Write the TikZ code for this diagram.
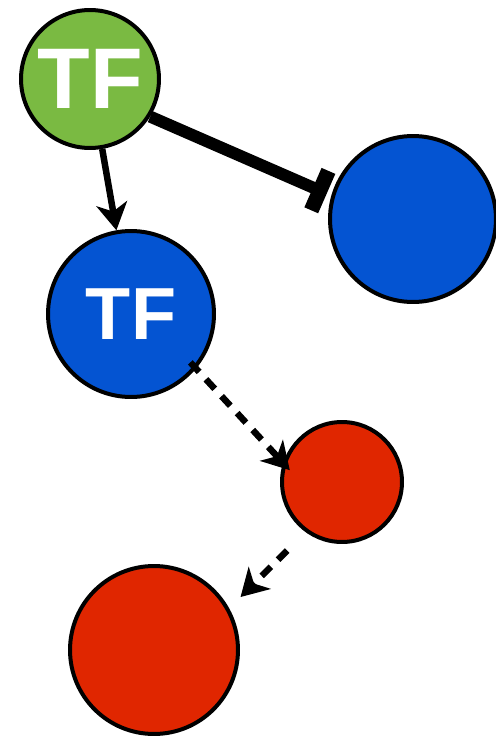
\documentclass[tikz,border=0pt]{standalone}
\usepackage{fontspec}
\setmainfont{Liberation Sans}
\usetikzlibrary{arrows.meta}
\definecolor{tfgreen}{RGB}{122,186,66}
\definecolor{tfblue}{RGB}{4,84,210}
\definecolor{tgtred}{RGB}{224,38,0}
\tikzset{
    gene/.style={circle, draw=black, line width=0.08cm, inner sep=0pt, text=white, font=\bfseries},
    activ/.style={line width=0.13cm, -{Stealth[length=0.54cm, width=0.62cm, inset=0.16cm]}},
    repress/.style={line width=0.24cm, -{Bar[width=0.86cm, line width=0.3cm]}},
    indirect/.style={line width=0.13cm, dash pattern=on 0.26cm off 0.2cm,
        -{Stealth[length=0.54cm, width=0.62cm, inset=0.16cm]}},
}

\begin{document}
\begin{tikzpicture}[x=0.02cm, y=-0.02cm]
    \useasboundingbox (0, 0) rectangle (495, 737);

    \node[gene, fill=tfgreen, minimum size=2.76cm, font=\bfseries\fontsize{49}{49}\selectfont] (tf1) at (90, 79) {TF};
    \node[gene, fill=tfblue, minimum size=3.32cm, font=\bfseries\fontsize{42}{42}\selectfont] (tf2) at (131, 314) {TF};
    \node[gene, fill=tfblue, minimum size=3.32cm] (tgt1) at (413, 219) {};
    \node[gene, fill=tgtred, minimum size=2.4cm] (tgt2) at (342, 482) {};
    \node[gene, fill=tgtred, minimum size=3.36cm] (tgt3) at (154, 650) {};

    \draw[activ] (tf1) -- (tf2);
    \draw[repress, shorten >=0.1cm] (tf1.-32) -- (tgt1.164);
    \draw[indirect, shorten <=-0.17cm, shorten >=-0.2cm] (tf2.-40) -- (tgt2.162);
    \draw[indirect, shorten <=0.52cm, shorten >=0.32cm] (tgt2.234) -- (tgt3.29);
\end{tikzpicture}
\end{document}
